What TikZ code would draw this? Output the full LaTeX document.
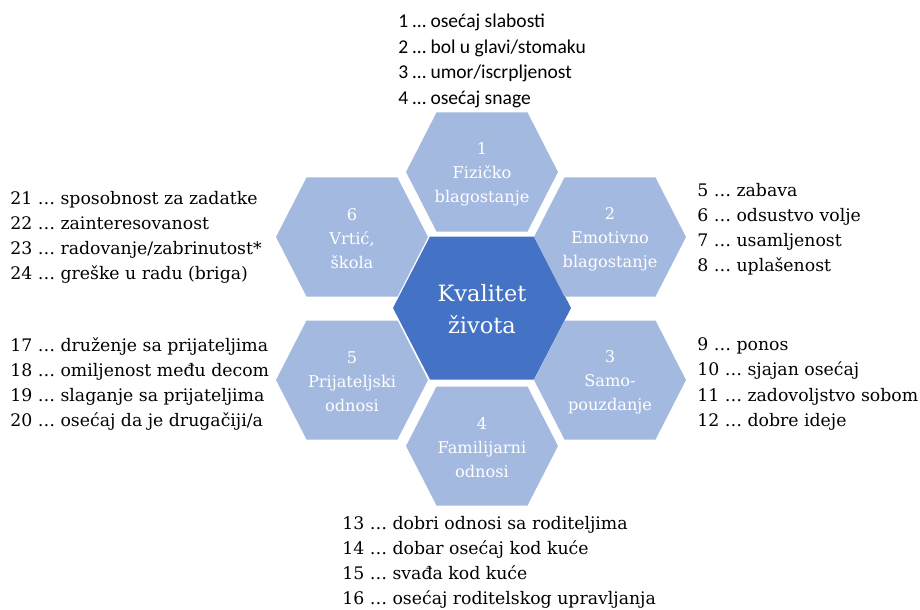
\documentclass[tikz,border=0pt]{standalone}
\usepackage{fontspec}
\setmainfont{DejaVu Serif}
\newfontfamily\sanslist{Carlito}
\usetikzlibrary{calc}
\definecolor{hexlight}{HTML}{A3B9E0}
\definecolor{hexdark}{HTML}{4472C4}
\def\hexagon[#1](#2)(#3:#4:#5){\fill[#1,shift={(#2)}] (-#3,0) -- (-#5,-#4) -- (#5,-#4) -- (#3,0) -- (#5,#4) -- (-#5,#4) -- cycle;}

\begin{document}
\begin{tikzpicture}[x=0.025cm, y=-0.025cm,
    hextext/.style={text=white, align=center, inner sep=0pt, font=\fontsize{11.5}{17.1}\selectfont},
    midtext/.style={text=white, align=center, inner sep=0pt, font=\fontsize{16}{22.8}\selectfont},
    listtext/.style={anchor=west, align=left, inner sep=0pt, font=\fontsize{12.3}{17.8}\selectfont}]
		%%%%% START %%%%%
		\useasboundingbox (0, 0) rectangle (920, 610);
		
		% the hexagons
		\hexagon[hexdark](482, 308)(89:71.5:52)
		\hexagon[hexlight](482, 172)(76:59.5:45.5)
		\hexagon[hexlight](610, 237)(76:59.5:45.5)
		\hexagon[hexlight](610, 380)(76:59.5:45.5)
		\hexagon[hexlight](482, 446)(76:59.5:45.5)
		\hexagon[hexlight](352, 380)(76:59.5:45.5)
		\hexagon[hexlight](352, 237)(76:59.5:45.5)
		
		\node[midtext] (kvalitet) at (482, 309) {Kvalitet\\života};
		\node[hextext] (fizicko) at (482, 174) {1\\Fizičko\\blagostanje};
		\node[hextext] (emotivno) at (610, 239) {2\\Emotivno\\blagostanje};
		\node[hextext] (samo) at (610, 382) {3\\Samo-\\pouzdanje};
		\node[hextext] (familija) at (482, 448) {4\\Familijarni\\odnosi};
		\node[hextext] (prijatelji) at (352, 382) {5\\Prijateljski\\odnosi};
		\node[hextext] (skola) at (352, 239) {6\\Vrtić,\\škola};
		
		% the item lists
		\node[listtext, font=\sanslist\fontsize{13.9}{18.1}\selectfont] (list1) at (398, 61) {1 … osećaj slabosti\\2 … bol u glavi/stomaku\\3 … umor/iscrpljenost\\4 … osećaj snage};
		\node[listtext] (list2) at (697, 229) {5 … zabava\\6 … odsustvo volje\\7 … usamljenost\\8 … uplašenost};
		\node[listtext] (list3) at (697, 384) {9 … ponos\\10 … sjajan osećaj\\11 … zadovoljstvo sobom\\12 … dobre ideje};
		\node[listtext] (list4) at (342, 562) {13 … dobri odnosi sa roditeljima\\14 … dobar osećaj kod kuće\\15 … svađa kod kuće\\16 … osećaj roditelskog upravljanja};
		\node[listtext] (list5) at (10, 384) {17 … druženje sa prijateljima\\18 … omiljenost među decom\\19 … slaganje sa prijateljima\\20 … osećaj da je drugačiji/a};
		\node[listtext] (list6) at (10, 237) {21 … sposobnost za zadatke\\22 … zainteresovanost\\23 … radovanje/zabrinutost*\\24 … greške u radu (briga)};
		%%%%% END %%%%%
	\end{tikzpicture}
\end{document}
